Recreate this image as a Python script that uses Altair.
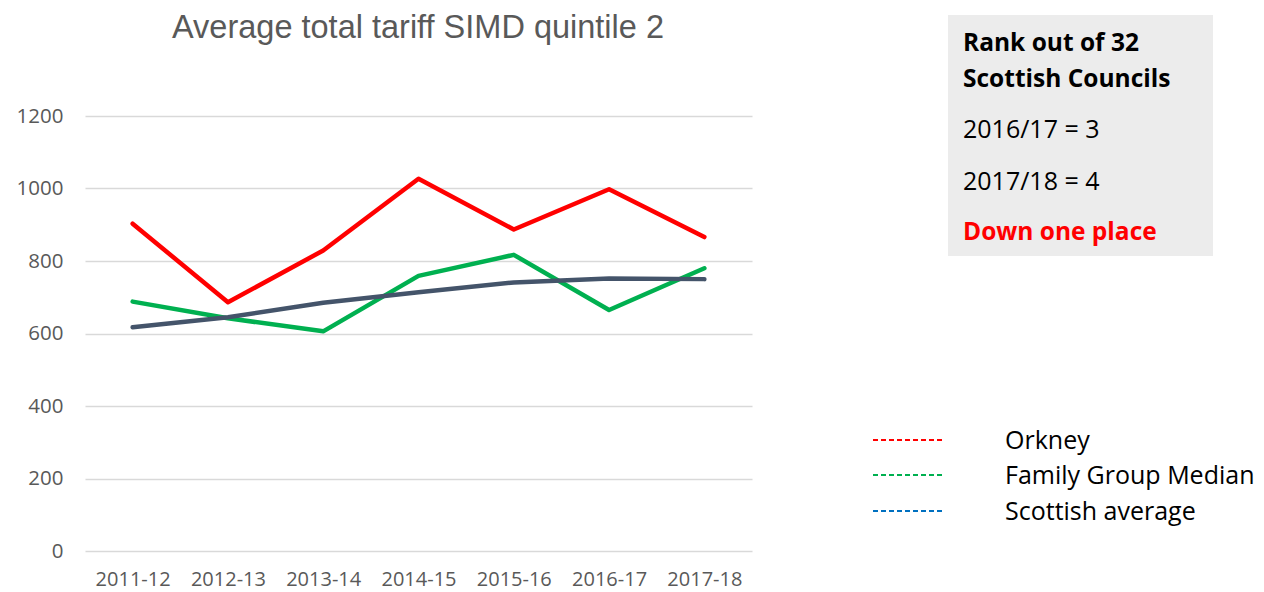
import altair as alt
import pandas as pd

years = ["2011-12", "2012-13", "2013-14", "2014-15", "2015-16", "2016-17", "2017-18"]
orkney = [903, 686, 829, 1027, 887, 998, 866]
family_median = [688, 642, 606, 759, 817, 665, 780]
scottish_avg = [617, 645, 685, 714, 741, 752, 750]
series_names = ["Orkney", "Family Group Median", "Scottish average"]
line_colors = ["#ff0000", "#00b050", "#44546a"]
legend_colors = ["#ff0000", "#00b050", "#0070c0"]
y_ticks = [0, 200, 400, 600, 800, 1000, 1200]
title_text = "Average total tariff SIMD quintile 2"
box_bold = ["Rank out of 32", "Scottish Councils"]
box_plain = ["2016/17 = 3", "2017/18 = 4"]
box_red = "Down one place"

FONT = "Open Sans"
W, H = 667, 435

rows = []
for name, vals in zip(series_names, [orkney, family_median, scottish_avg]):
    for yr, v in zip(years, vals):
        rows.append({"year": yr, "value": v, "series": name})
df = pd.DataFrame(rows)

lines = alt.Chart(df).mark_line(strokeWidth=4.5, strokeCap="round", strokeJoin="round").encode(
    x=alt.X("year:O", sort=years, scale=alt.Scale(type="point", padding=0.5),
            axis=alt.Axis(title=None, labelAngle=0, ticks=False, domain=False, grid=False,
                          labelFont=FONT, labelFontSize=20, labelColor="#595959",
                          labelBaseline="alphabetic", labelPadding=34)),
    y=alt.Y("value:Q", scale=alt.Scale(domain=[0, 1200], nice=False),
            axis=alt.Axis(title=None, values=y_ticks, format="d", ticks=False, domain=False, grid=True,
                          gridColor="#d9d9d9", gridWidth=1.5,
                          labelFont=FONT, labelFontSize=20.5, labelColor="#595959", labelPadding=22)),
    color=alt.Color("series:N", sort=series_names,
                    scale=alt.Scale(domain=series_names, range=line_colors), legend=None),
    order=alt.Order("series_order:Q"),
).transform_calculate(
    series_order="indexof(['Orkney','Family Group Median','Scottish average'], datum.series)"
)


def text_at(txt, x, y, size, color="#000000", weight="normal", align="left", font=FONT):
    return alt.Chart(pd.DataFrame({"t": [txt]})).mark_text(
        font=font, fontSize=size, color=color, fontWeight=weight, align=align, baseline="alphabetic"
    ).encode(x=alt.value(x), y=alt.value(y), text="t:N")


layers = [lines]

# title
layers.append(text_at(title_text, 333, -78.5, 32.5, color="#595959", align="center",
                      font="Liberation Sans"))

# info box
box = alt.Chart(pd.DataFrame({"a": [0]})).mark_rect(color="#ececec").encode(
    x=alt.value(863), x2=alt.value(1128), y=alt.value(-101), y2=alt.value(140))
layers.append(box)
layers.append(text_at(box_bold[0], 878, -65, 24.5, weight="bold"))
layers.append(text_at(box_bold[1], 878, -29, 24.5, weight="bold"))
layers.append(text_at(box_plain[0], 878, 22, 25))
layers.append(text_at(box_plain[1], 878, 74, 25))
layers.append(text_at(box_red, 878, 124, 24.5, color="#ff0000", weight="bold"))

# legend
legend_y = [324, 359, 395]
for name, col, ly in zip(series_names, legend_colors, legend_y):
    layers.append(alt.Chart(pd.DataFrame({"a": [0]})).mark_rule(
        color=col, strokeWidth=2, strokeDash=[5, 3]).encode(
        x=alt.value(788), x2=alt.value(857), y=alt.value(ly)))
    layers.append(text_at(name, 920, ly + 9, 25))

chart = alt.layer(*layers).properties(
    width=W, height=H,
    background="white",
    autosize=alt.AutoSizeParams(type="none"),
    padding={"left": 77, "top": 108, "right": 504, "bottom": 41},
).configure_view(stroke=None)

chart.save("out.html", embed_options={"renderer": "svg", "actions": False})
